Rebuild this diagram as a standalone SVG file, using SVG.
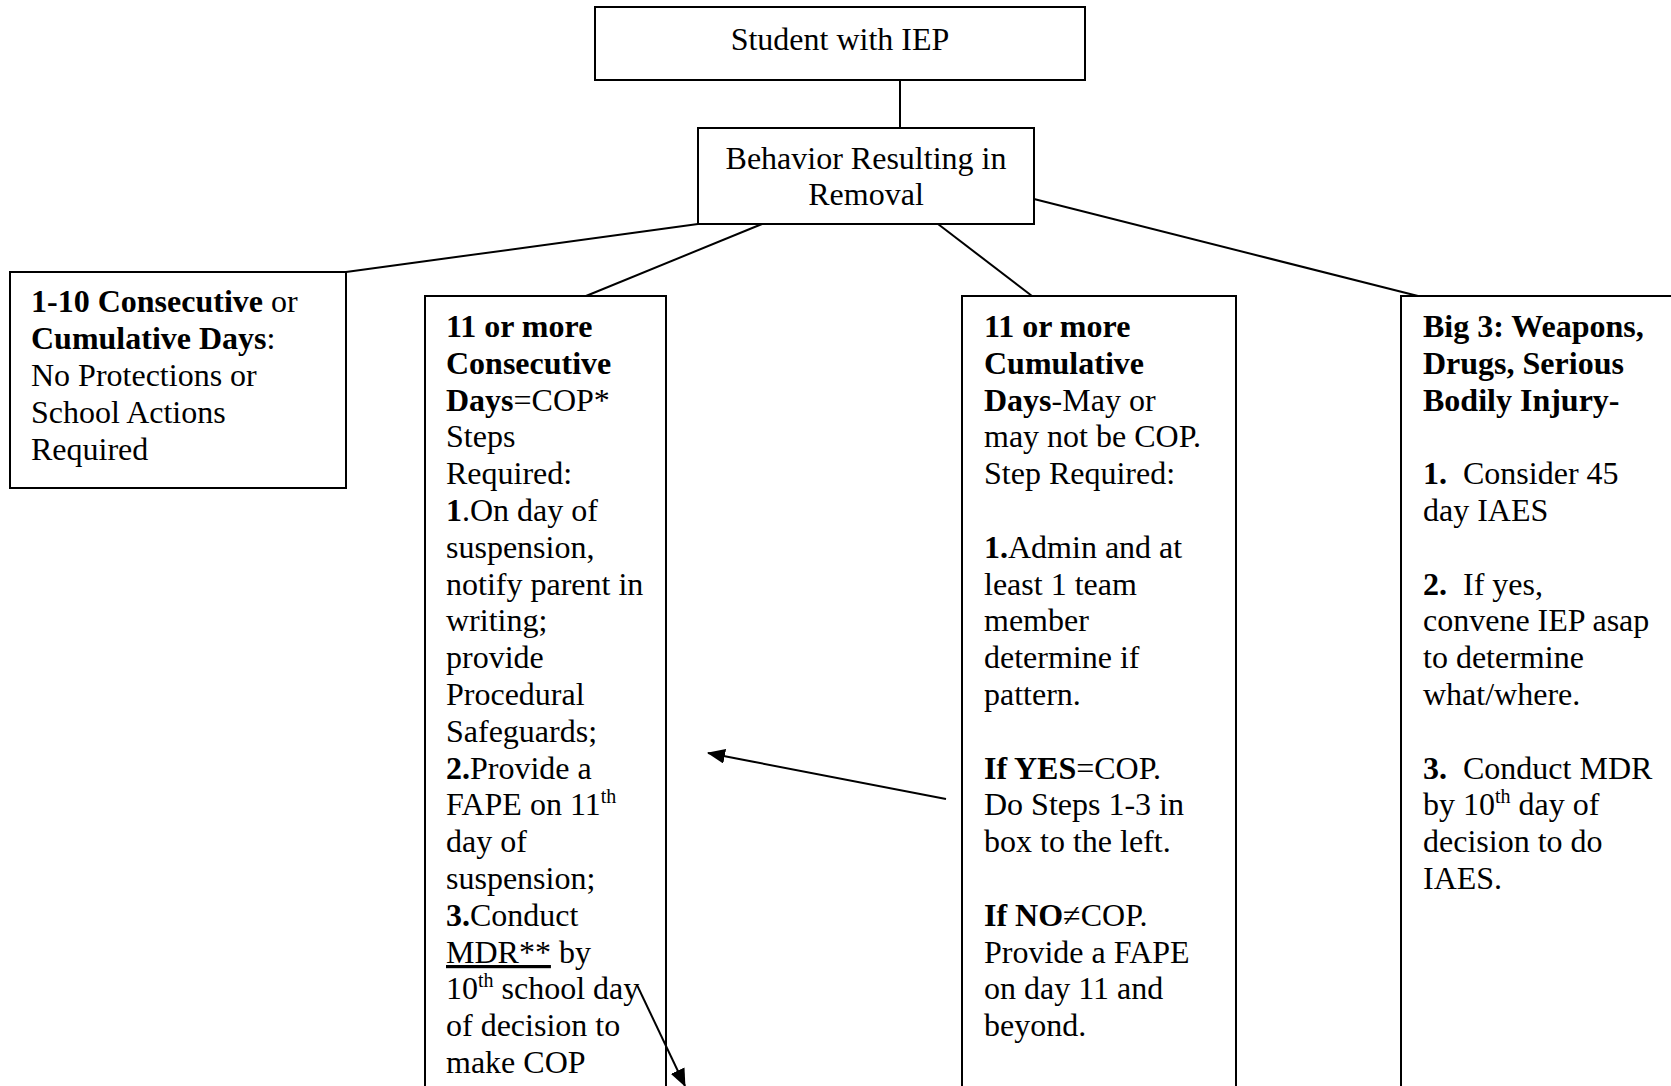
<svg xmlns="http://www.w3.org/2000/svg" width="1671" height="1086" viewBox="0 0 1671 1086">
<style>
.box{fill:#fff;stroke:#000;stroke-width:2}
.ln{stroke:#000;stroke-width:2;fill:none}
.t{font-family:"Liberation Serif","Times New Roman",serif;font-size:32px;fill:#000}
.b{font-weight:bold}
.sup{font-size:20px}
.c{text-anchor:middle}
</style>
<defs>
<marker id="ah" viewBox="0 0 18 15" refX="17" refY="7.5" markerWidth="18" markerHeight="15" markerUnits="userSpaceOnUse" orient="auto">
<path d="M0,0 L18,7.5 L0,15 Z" fill="#000"/>
</marker>
</defs>
<rect width="1671" height="1086" fill="#fff"/>
<g id="connectors">
<line class="ln" x1="900" y1="80" x2="900" y2="128"/>
<line class="ln" x1="698" y1="224" x2="346" y2="272"/>
<line class="ln" x1="762" y1="224" x2="586" y2="296"/>
<line class="ln" x1="938" y1="224" x2="1032" y2="296"/>
<line class="ln" x1="1034" y1="199" x2="1418" y2="296"/>
</g>
<g id="student">
<rect class="box" x="595" y="7" width="490" height="73"/>
<text class="t c" x="840" y="50">Student with IEP</text>
</g>
<g id="behavior">
<rect class="box" x="698" y="128" width="336" height="96"/>
<text class="t c"><tspan x="866" y="169">Behavior Resulting in</tspan><tspan x="866" y="205">Removal</tspan></text>
</g>
<g id="short">
<rect class="box" x="10" y="272" width="336" height="216"/>
<text class="t">
<tspan x="31" y="312"><tspan class="b">1-10 Consecutive</tspan> or</tspan>
<tspan x="31" y="349"><tspan class="b">Cumulative Days</tspan>:</tspan>
<tspan x="31" y="386">No Protections or</tspan>
<tspan x="31" y="423">School Actions</tspan>
<tspan x="31" y="460">Required</tspan>
</text>
</g>
<g id="consecutive">
<rect class="box" x="425" y="296" width="241" height="800"/>
<text class="t">
<tspan x="446" y="337" class="b">11 or more</tspan>
<tspan x="446" y="374" class="b">Consecutive</tspan>
<tspan x="446" y="411"><tspan class="b">Days</tspan>=COP*</tspan>
<tspan x="446" y="447">Steps</tspan>
<tspan x="446" y="484">Required:</tspan>
<tspan x="446" y="521"><tspan class="b">1</tspan>.On day of</tspan>
<tspan x="446" y="558">suspension,</tspan>
<tspan x="446" y="595">notify parent in</tspan>
<tspan x="446" y="631">writing;</tspan>
<tspan x="446" y="668">provide</tspan>
<tspan x="446" y="705">Procedural</tspan>
<tspan x="446" y="742">Safeguards;</tspan>
<tspan x="446" y="779"><tspan class="b">2.</tspan>Provide a</tspan>
<tspan x="446" y="815">FAPE on 11<tspan class="sup" dy="-12">th</tspan></tspan>
<tspan x="446" y="852">day of</tspan>
<tspan x="446" y="889">suspension;</tspan>
<tspan x="446" y="926"><tspan class="b">3.</tspan>Conduct</tspan>
<tspan x="446" y="963"><tspan text-decoration="underline">MDR**</tspan> by</tspan>
<tspan x="446" y="999">10<tspan class="sup" dy="-12">th</tspan><tspan dy="12"> school day</tspan></tspan>
<tspan x="446" y="1036">of decision to</tspan>
<tspan x="446" y="1073">make COP</tspan>
</text>
</g>
<g id="cumulative">
<rect class="box" x="962" y="296" width="274" height="800"/>
<text class="t">
<tspan x="984" y="337" class="b">11 or more</tspan>
<tspan x="984" y="374" class="b">Cumulative</tspan>
<tspan x="984" y="411"><tspan class="b">Days</tspan>-May or</tspan>
<tspan x="984" y="447">may not be COP.</tspan>
<tspan x="984" y="484">Step Required:</tspan>
<tspan x="984" y="558"><tspan class="b">1.</tspan>Admin and at</tspan>
<tspan x="984" y="595">least 1 team</tspan>
<tspan x="984" y="631">member</tspan>
<tspan x="984" y="668">determine if</tspan>
<tspan x="984" y="705">pattern.</tspan>
<tspan x="984" y="779"><tspan class="b">If YES</tspan>=COP.</tspan>
<tspan x="984" y="815">Do Steps 1-3 in</tspan>
<tspan x="984" y="852">box to the left.</tspan>
<tspan x="984" y="926"><tspan class="b">If NO</tspan>≠COP.</tspan>
<tspan x="984" y="963">Provide a FAPE</tspan>
<tspan x="984" y="999">on day 11 and</tspan>
<tspan x="984" y="1036">beyond.</tspan>
</text>
</g>
<g id="big3">
<rect class="box" x="1401" y="296" width="290" height="800"/>
<text class="t">
<tspan x="1423" y="337" class="b">Big 3: Weapons,</tspan>
<tspan x="1423" y="374" class="b">Drugs, Serious</tspan>
<tspan x="1423" y="411" class="b">Bodily Injury-</tspan>
<tspan x="1423" y="484"><tspan class="b">1.</tspan>&#160; Consider 45</tspan>
<tspan x="1423" y="521">day IAES</tspan>
<tspan x="1423" y="595"><tspan class="b">2.</tspan>&#160; If yes,</tspan>
<tspan x="1423" y="631">convene IEP asap</tspan>
<tspan x="1423" y="668">to determine</tspan>
<tspan x="1423" y="705">what/where.</tspan>
<tspan x="1423" y="779"><tspan class="b">3.</tspan>&#160; Conduct MDR</tspan>
<tspan x="1423" y="815">by 10<tspan class="sup" dy="-12">th</tspan><tspan dy="12"> day of</tspan></tspan>
<tspan x="1423" y="852">decision to do</tspan>
<tspan x="1423" y="889">IAES.</tspan>
</text>
</g>
<g id="arrows">
<line class="ln" x1="946" y1="799" x2="708" y2="753" marker-end="url(#ah)"/>
<line class="ln" x1="637" y1="985" x2="685" y2="1086" marker-end="url(#ah)"/>
</g>
</svg>
